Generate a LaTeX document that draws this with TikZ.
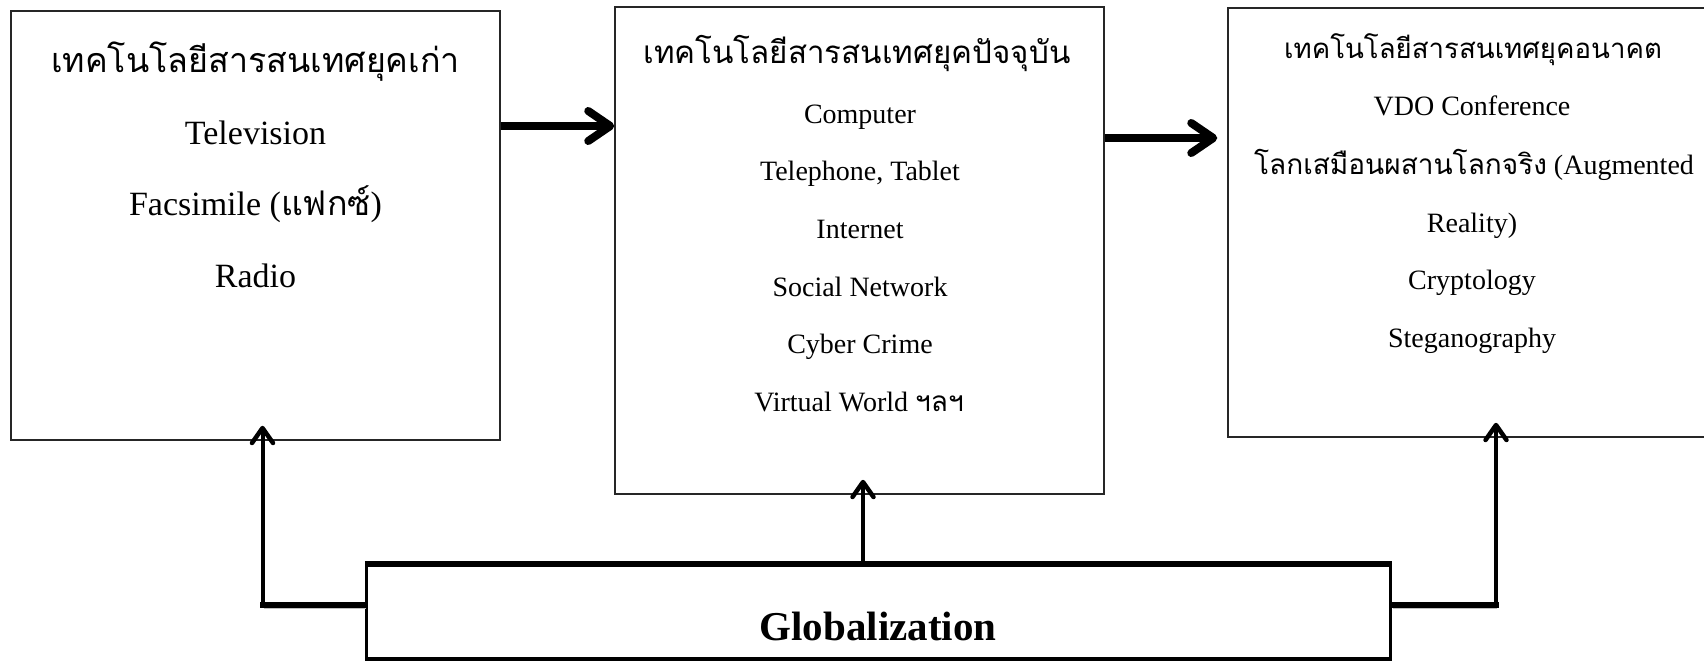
\documentclass[tikz,border=0pt]{standalone}
\usepackage{fontspec}
\setmainfont{Liberation Serif}
\newfontfamily\thaifont[Script=Thai]{Loma}
\usetikzlibrary{arrows.meta}

\tikzset{
  panel/.style={draw=black!85, line width=1.5pt, fill=white, inner sep=0pt},
  globbox/.style={draw=black, line width=3.5pt, fill=white, inner sep=0pt},
  shadowed/.style={preaction={draw=black!25, transform canvas={shift={(1pt,-3pt)}}}},
  bigarrow/.style={line width=8pt, -{Straight Barb[round, length=22pt, width=30pt]}, shadowed},
  thinarrow/.style={line width=4pt, -{Straight Barb[round, length=15pt, width=21pt, line width=4.5pt]}, shorten >=-15pt},
  heavyline/.style={line width=5.5pt, line cap=rect, shadowed},
  txtA/.style={anchor=base, font=\fontsize{34}{40}\selectfont},
  txtB/.style={anchor=base, font=\fontsize{28}{34}\selectfont},
  thaiA/.style={anchor=base, font=\thaifont\fontsize{34}{40}\selectfont},
  thaiB/.style={anchor=base, font=\thaifont\fontsize{31.3}{38}\selectfont},
  thaiC/.style={anchor=base, font=\thaifont\fontsize{27.6}{34}\selectfont},
}

\begin{document}
\begin{tikzpicture}[x=1pt,y=-1pt]
\path[use as bounding box, clip] (0,0) rectangle (1704,662);
\fill[white] (0,0) rectangle (1704,662);

% the three eras
\node[panel, minimum width=489pt, minimum height=429pt] (old) at (255.5,225.5) {};
\node[panel, minimum width=489pt, minimum height=487pt] (now) at (859.5,250.5) {};
\node[panel, minimum width=488pt, minimum height=429pt] (future) at (1472,222.5) {};

% globalization bar
\node[globbox, minimum width=1024pt, minimum height=93.5pt] (glob) at (878.5,612.25) {};
\draw[line width=5.5pt] (glob.north west) -- (glob.north east);
\node[anchor=base, font=\bfseries\fontsize{41}{48}\selectfont] (globT) at (878,640) {Globalization};

% old era
\node[thaiA] (oldT) at (255.5,72) {เทคโนโลยีสารสนเทศยุคเก่า};
\node[txtA] (oldA) at (255.5,144) {Television};
\node[txtA] (oldB) at (255.5,215) {Facsimile ({\thaifont แฟกซ์})};
\node[txtA] (oldC) at (255.5,287) {Radio};

% present era
\node[thaiB] (nowT) at (857,63) {เทคโนโลยีสารสนเทศยุคปัจจุบัน};
\node[txtB] (nowA) at (860,123) {Computer};
\node[txtB] (nowB) at (860,180) {Telephone, Tablet};
\node[txtB] (nowC) at (860,238) {Internet};
\node[txtB] (nowD) at (860,296) {Social Network};
\node[txtB] (nowE) at (860,353) {Cyber Crime};
\node[txtB] (nowF) at (859,411) {Virtual World {\thaifont ฯลฯ}};

% future era
\node[thaiC] (futT) at (1473,58) {เทคโนโลยีสารสนเทศยุคอนาคต};
\node[txtB] (futA) at (1472,115) {VDO Conference};
\node[txtB] (futB) at (1474,174) {{\thaifont โลกเสมือนผสานโลกจริง} (Augmented};
\node[txtB] (futC) at (1472,232) {Reality)};
\node[txtB] (futD) at (1472,289) {Cryptology};
\node[txtB] (futE) at (1472,347) {Steganography};

% era-to-era arrows
\coordinate (a1) at (0,126);
\coordinate (a2) at (0,138);
\draw[bigarrow] (old.east |- a1) -- (now.west |- a1);
\draw[bigarrow, shorten >=10pt] (now.east |- a2) -- (future.west |- a2);

% globalization feeds every era
\coordinate (kL) at (262.5,605);
\coordinate (kM) at (863,563);
\coordinate (kR) at (1496,605);
\draw[heavyline] (glob.west |- kL) -- (kL);
\draw[heavyline] (glob.east |- kR) -- (kR);
\draw[thinarrow] (kL) -- (kL |- old.south);
\draw[thinarrow] (kM) -- (kM |- now.south);
\draw[thinarrow] (kR) -- (kR |- future.south);
\end{tikzpicture}
\end{document}
